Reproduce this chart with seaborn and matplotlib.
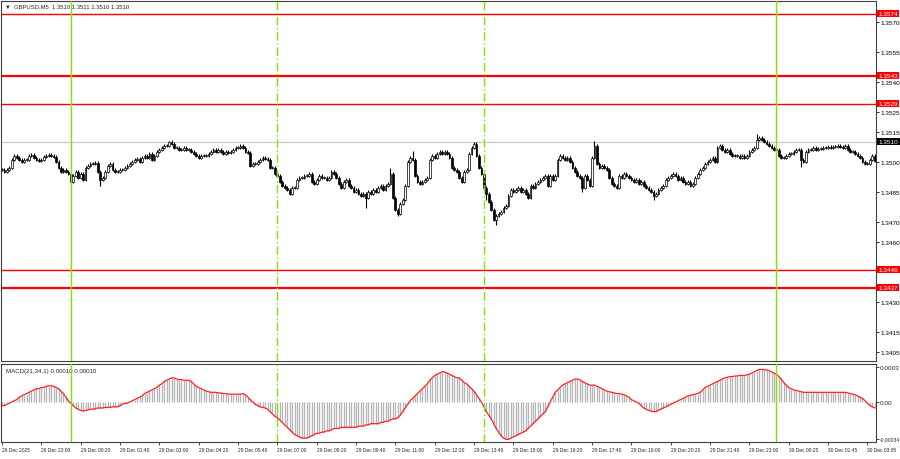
import numpy as np
import pandas as pd
import matplotlib
matplotlib.use("Agg")
import matplotlib.pyplot as plt
import matplotlib.transforms as mtransforms
import seaborn as sns

# --- datos (GBPUSD M5) ---
# cierres en pips respecto a 1.3500, una vela por posición
cierres = [
    -4, -5, -4, -3, 1, 3, 2, 1, 0, 1,
    1, 3, 3.5, 2, 1, 0.5, 1, 2.5, 3, 3.5,
    3, 2.5, 0, -3, -5, -4, -5, -6, -10, -7,
    -5, -8, -6, -9, -3, -2, -1, -1, -0.5, -5,
    -9, -8, -5, -2, -1, -4, -5, -5, -4, -4,
    -3, -2, -1, 0, 1, 1.5, 0, 2, 3, 2,
    4, 1, 3, 5, 6, 7, 8, 8, 10, 9,
    7, 7, 6, 6, 7, 6, 6, 5, 4, 3,
    2, 3, 3, 3, 4, 5, 6, 5, 6, 5,
    4, 5, 4.5, 5, 6, 7, 7, 8, 7, 5,
    4.5, -2, -1, -1, 0, 1, 2, 1.5, 1, -3,
    -3, -6, -7, -10, -12, -13, -14, -16, -13, -13,
    -9, -8, -8, -7, -7, -6, -10, -11, -9, -7,
    -8, -8, -9, -8, -5, -6, -8, -11, -13, -10,
    -9, -12, -13, -15, -14, -16, -17, -16, -18, -15,
    -16, -14, -15, -13, -12, -14, -12, -11, -6, -18,
    -24, -26, -21, -19, -12, 0, 2, 1, -7, -10,
    -11, -10, -9, -8, 1, 3, 2, 4, 5, 4,
    5, 4, 2, -3, -4, -5, -8, -10, -5, -4,
    4, 7, 9, 3, -3, -6, -13, -16, -20, -24,
    -29, -27, -26, -25, -23, -22, -17, -14, -15, -14,
    -13, -15, -14, -16, -18, -12, -13, -11, -10, -9,
    -8, -7, -12, -7, -9, -7, 1, 3, 2, 1,
    2, 0, -3, -5, -7, -8, -13, -7, -9, -12,
    2, 8, -1, -3, -2, -3, -4, -8, -11, -12,
    -13, -7, -8, -6, -7, -8, -9, -10, -9, -11,
    -10, -12, -13, -14, -15, -17, -16, -14, -13, -12,
    -9, -8, -7, -6, -7, -9, -8, -10, -11, -10,
    -12, -11, -8, -6, -4, -3, -1, 0, 1, 2,
    0, 7, 8, 6, 5, 6, 4, 3, 3, 3,
    2, 3, 2, 3, 5, 6, 7, 11, 12, 11,
    10, 9, 8, 7, 6, 6, 3, 2, 2, 3,
    4, 4, 5, 6, 6, 1, 0, 5, 6, 6,
    7, 6, 6.5, 6.5, 7, 7, 7.5, 7, 7.5, 7.5,
    8, 7.5, 7, 8, 6, 5, 5, 4, 3, 2,
    0, -1, -1, 1, 3, 0.5,
]
# mechas largas (pips)
maximos_extra = {68: 10.5, 158: -3, 167: 5.5, 192: 10, 241: 10.5, 307: 14}
minimos_extra = {28: -12, 40: -12, 148: -23, 161: -27, 197: -19, 201: -31.5,
                 236: -15, 265: -19, 325: -2.5}

# MACD(21,34,1) en unidades de 1e-5
macd = [
    -3, -3, -2, -1, 0, 1, 2, 4, 5, 6,
    7, 8, 9, 10, 11, 11, 12, 12, 13, 13.5,
    13.5, 13, 12, 11, 9, 7, 4, 1, -1, -3,
    -5, -6, -7, -7.5, -7, -6.5, -6, -6, -5.5, -5,
    -5, -5, -4.5, -4.5, -4.5, -4, -4, -4, -3, -2,
    -1, -1, 0, 1, 2, 3, 4, 5, 7, 8,
    9, 10, 11, 12, 14, 15, 17, 18, 19, 20,
    20, 19, 18.5, 18.5, 18, 18, 18, 17, 15, 13,
    12, 11, 10, 9, 8.5, 8, 8, 8, 7.5, 7.5,
    7, 7, 6.5, 6.5, 6.5, 6.5, 6.5, 6.5, 7, 6,
    4, 2, 0, -2, -3, -4, -4.5, -5, -6, -8,
    -10, -12, -13, -15, -17, -19, -21, -23, -25, -27,
    -28, -29, -30, -30, -30, -29, -28, -27, -26, -26,
    -25, -25, -24, -24, -23, -22, -22, -22, -21, -21,
    -21, -21, -21, -21, -21, -20, -20, -20, -19, -19,
    -18, -18, -18, -18, -17, -17, -16, -16, -15, -14,
    -14, -13, -11, -8, -5, -2, 1, 3, 5, 7,
    9, 11, 13, 15, 18, 20, 22, 23, 24, 25,
    25, 24, 23, 22, 21, 20, 20, 18, 16, 15,
    13, 11, 9, 6, 3, 0, -4, -8, -11, -14,
    -18, -22, -25, -28, -30, -31, -31, -30, -29, -28,
    -27, -26, -25, -24, -22, -20, -18, -16, -14, -12,
    -10, -8, -4, 0, 4, 8, 10, 12, 14, 15,
    16, 17, 18, 19, 19, 18.5, 17, 16, 15, 14,
    14, 14, 13, 12, 11, 10, 9, 8.5, 8, 7.5,
    7, 7, 6.5, 6, 5, 4, 2, 1, 0, -1,
    -3, -5, -6, -7, -7.5, -8, -8, -7, -6, -5,
    -4, -3, -2, -1, 0, 1, 2, 3, 4, 5,
    5.5, 6, 6.5, 7, 8, 10, 12, 13, 14, 15,
    16, 17, 18, 19, 20, 20.5, 21, 21, 21.5, 21.5,
    22, 22, 22, 22.5, 23, 24, 25, 26, 27, 27,
    27, 26.5, 26, 25, 24, 23, 21, 19, 16, 14,
    12, 11, 10, 9.5, 9, 8.5, 8, 8, 8, 8,
    8, 8, 8, 8, 8, 8, 8, 8, 8, 8,
    8, 8, 8, 8, 7.5, 7, 6.5, 6, 5, 4,
    3, 1, -1, -3, -4, -5,
]

niveles_rojos = [1.3574, 1.3543, 1.3529, 1.3446, 1.3437]
grosor_rojos = [1.0, 1.6, 1.0, 1.0, 1.6]
precio_actual = 1.3510
lineas_verdes = [28, 112, 196, 315]
estilo_verdes = ['-', (0, (6, 2, 1, 2)), (0, (6, 2, 1, 2)), '-']

ticks_y = [1.3570, 1.3555, 1.3540, 1.3525, 1.3515, 1.3500, 1.3485, 1.3470,
           1.3460, 1.3430, 1.3415, 1.3405]
etiquetas_x = ["26 Dec 2025", "26 Dec 23:00", "29 Dec 00:20", "29 Dec 01:40",
               "29 Dec 03:00", "29 Dec 04:20", "29 Dec 05:40", "29 Dec 07:00",
               "29 Dec 08:20", "29 Dec 09:40", "29 Dec 11:00", "29 Dec 12:20",
               "29 Dec 13:40", "29 Dec 15:00", "29 Dec 16:20", "29 Dec 17:40",
               "29 Dec 19:00", "29 Dec 20:20", "29 Dec 21:40", "29 Dec 23:00",
               "30 Dec 00:25", "30 Dec 01:45", "30 Dec 03:05"]

# --- tabla de velas ---
velas = pd.DataFrame({"i": np.arange(len(cierres)),
                      "close": 1.35 + np.array(cierres) * 1e-4})
velas["open"] = velas["close"].shift(1).fillna(velas["close"])
velas["high"] = velas[["open", "close"]].max(axis=1) + 0.7e-4
velas["low"] = velas[["open", "close"]].min(axis=1) - 0.7e-4
for k, v in maximos_extra.items():
    velas.loc[k, "high"] = 1.35 + v * 1e-4
for k, v in minimos_extra.items():
    velas.loc[k, "low"] = 1.35 + v * 1e-4
velas["macd"] = np.array(macd) * 1e-5

sns.set_theme(style="white")
plt.rcParams['font.family'] = ['Liberation Sans', 'DejaVu Sans']

W, H = 900, 460
fig = plt.figure(figsize=(W / 100, H / 100), dpi=100)
ax = fig.add_axes([1 / W, 1 - 362 / H, 875 / W, 360 / H])
ax2 = fig.add_axes([1 / W, 1 - 443 / H, 875 / W, 78 / H], sharex=ax)

# velas
ax.vlines(velas["i"], velas["low"], velas["high"], color="black", lw=0.8, zorder=3)
sube = velas["close"] >= velas["open"]
cuerpo = (velas["close"] - velas["open"]).abs().clip(lower=0.3e-4)
ax.bar(velas["i"], cuerpo, bottom=velas[["open", "close"]].min(axis=1),
       width=0.7, color=np.where(sube, "white", "black"), edgecolor="black",
       linewidth=0.5, zorder=4)

# niveles
trans = mtransforms.blended_transform_factory(ax.transAxes, ax.transData)
ax.axhline(precio_actual, color="#C8C8C8", lw=0.9, zorder=1)
for nivel, g in zip(niveles_rojos, grosor_rojos):
    ax.axhline(nivel, color="#FF0000", lw=g, zorder=2)
    ax.text(1.003, nivel, f"{nivel:.4f}", transform=trans, ha="left", va="center",
            fontsize=4.6, color="white", clip_on=False, zorder=6,
            bbox=dict(boxstyle="square,pad=0.18", fc="#FF0000", ec="none"))
ax.text(1.003, precio_actual, f"{precio_actual:.4f}", transform=trans, ha="left",
        va="center", fontsize=4.6, color="white", clip_on=False, zorder=6,
        bbox=dict(boxstyle="square,pad=0.18", fc="black", ec="none"))

for xv, est in zip(lineas_verdes, estilo_verdes):
    for a in (ax, ax2):
        a.axvline(xv, color="#7CE600", lw=1.0, linestyle=est, zorder=5)

ax.set_xlim(-0.4, len(cierres) - 0.5)
ax.set_ylim(1.34004, 1.35804)
ax.yaxis.tick_right()
ax.set_yticks(ticks_y)
ax.set_yticklabels([f"{v:.4f}" for v in ticks_y])
ax.tick_params(axis="y", right=True, length=2, width=0.6, pad=1.5, labelsize=4.6,
               colors="black")
ax.tick_params(axis="x", bottom=False, labelbottom=False)

# MACD
ax2.vlines(velas["i"], 0, velas["macd"], color="#B4B4B4", lw=0.9, zorder=2)
sns.lineplot(data=velas, x="i", y="macd", color="#FF2020", lw=0.9, ax=ax2, zorder=4)
ax2.set_ylim(-33.2e-5, 31.5e-5)
ax2.yaxis.tick_right()
ax2.set_yticks([-0.00031, 0, 0.00029])
ax2.set_yticklabels(["-0.00034", "0.00", "0.0003"])
ax2.tick_params(axis="y", right=True, length=2, width=0.6, pad=0.5, labelsize=4.6)
ax2.get_yticklabels()[0].set_fontsize(3.6)
ax2.set_xticks(np.arange(0, 16 * len(etiquetas_x), 16))
ax2.set_xticklabels(etiquetas_x, ha="left")
ax2.tick_params(axis="x", bottom=True, length=2, width=0.6, pad=1.5, labelsize=3.5)
ax2.set_xlabel("")
ax2.set_ylabel("")
ax2.text(0.006, 0.95, "MACD(21,34,1) 0.00010 0.00010", transform=ax2.transAxes,
         fontsize=4.4, va="top", ha="left")

for a in (ax, ax2):
    for s in a.spines.values():
        s.set_color("#404040")
        s.set_linewidth(0.8)

fig.text(5 / W, 1 - 7 / H, "▼  GBPUSD,M5  1.3510 1.3511 1.3510 1.3510",
         fontsize=4.2, va="center", ha="left")

fig.savefig("out.png", dpi=100)
